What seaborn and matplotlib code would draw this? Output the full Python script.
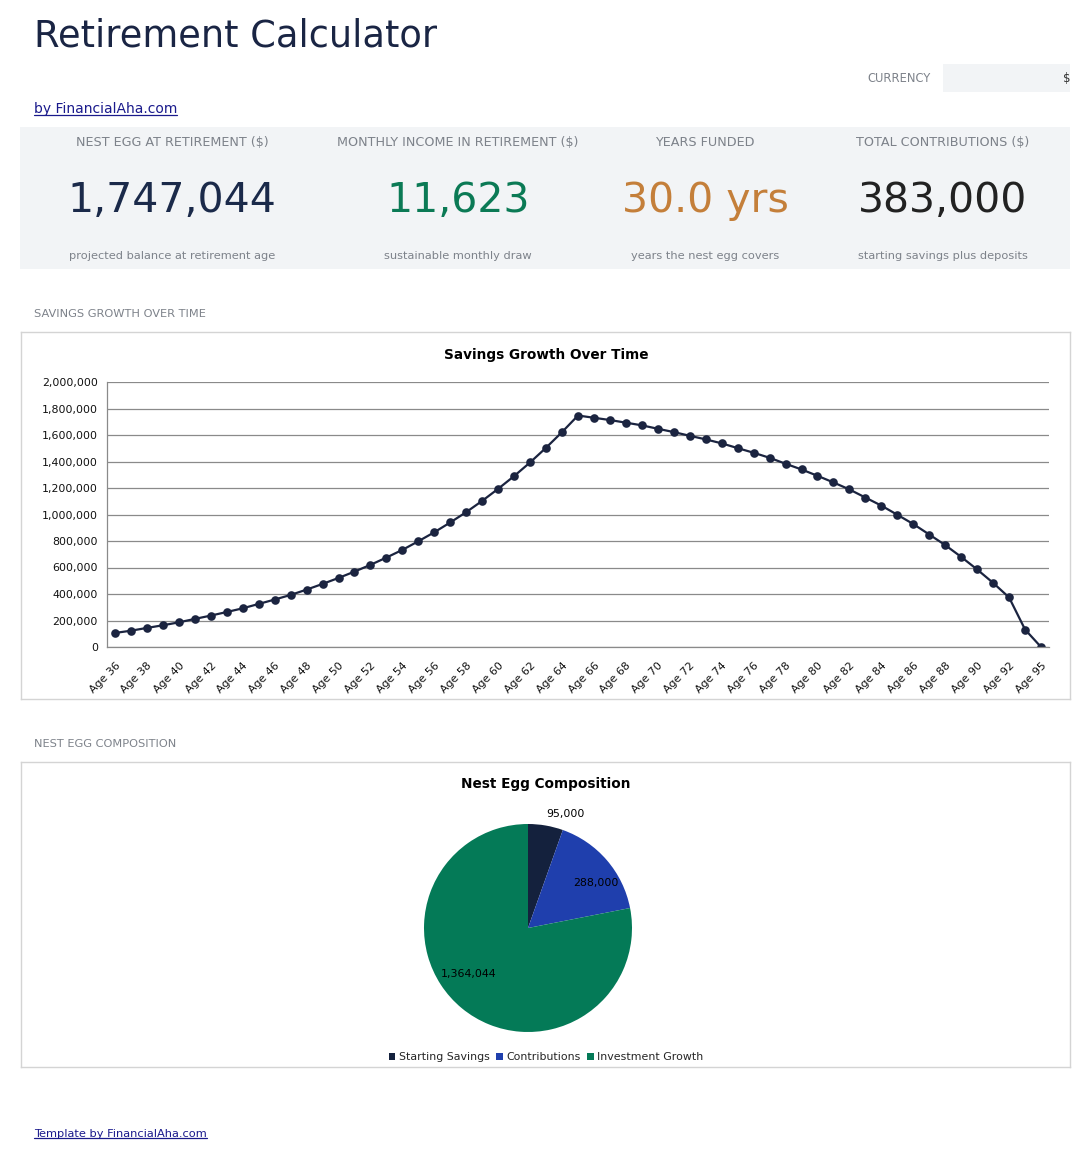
import numpy as np
import matplotlib.pyplot as plt
import seaborn as sns
from matplotlib.patches import Rectangle, Patch
from matplotlib.lines import Line2D
from matplotlib.ticker import FuncFormatter, MultipleLocator

plt.switch_backend('agg')
sns.set_style('white')
plt.rcParams['font.family'] = ['DejaVu Sans']

# ---- data ----
ages = [f"Age {a}" for a in list(range(36, 94)) + [95]]
balance = [106000, 123000, 144000, 164000, 186000, 212000, 237000, 264000, 292000, 325000,
           358000, 393000, 433000, 476000, 521000, 569000, 620000, 675000, 733000, 798000,
           866000, 940000, 1018000, 1103000, 1194000, 1290000, 1393000, 1504000, 1622000, 1747044,
           1730000, 1713000, 1693000, 1673000, 1647000, 1622000, 1594000, 1567000, 1537000, 1501000,
           1466000, 1428000, 1383000, 1340000, 1292000, 1242000, 1189000, 1128000, 1067000, 998000,
           928000, 849000, 769000, 680000, 585000, 484000, 374000, 132000, 0]

kpi_titles = ["NEST EGG AT RETIREMENT ($)", "MONTHLY INCOME IN RETIREMENT ($)",
              "YEARS FUNDED", "TOTAL CONTRIBUTIONS ($)"]
kpi_values = ["1,747,044", "11,623", "30.0 yrs", "383,000"]
kpi_notes = ["projected balance at retirement age", "sustainable monthly draw",
             "years the nest egg covers", "starting savings plus deposits"]
kpi_colors = ["#1b2a4a", "#0b7a55", "#c47f3a", "#222222"]

pie_labels = ["Starting Savings", "Contributions", "Investment Growth"]
pie_values = [95000, 288000, 1364044]
pie_colors = ["#14213d", "#1f3fad", "#047a57"]

W, H = 1091, 1161
fig = plt.figure(figsize=(W / 100, H / 100), dpi=100)
fig.patch.set_facecolor('white')


def rect(x0, y0, x1, y1):
    return [x0 / W, 1 - y1 / H, (x1 - x0) / W, (y1 - y0) / H]


def ftext(x, y, s, **kw):
    return fig.text(x / W, 1 - y / H, s, **kw)


GRAY = '#7d828a'
NAVY = '#1a2544'
LINK = '#1a1a8c'

# header
ftext(34, 36, "Retirement Calculator", fontsize=26.5, color=NAVY, va='center')
ftext(931, 78, "CURRENCY", fontsize=8.3, color=GRAY, va='center', ha='right')
fig.patches.append(Rectangle((943 / W, 1 - 92 / H), 127 / W, 28 / H,
                             transform=fig.transFigure, facecolor='#f2f4f6', edgecolor='none'))
ftext(1070, 78, "$", fontsize=8.5, color='#333333', va='center', ha='right')
links = [ftext(34, 109, "by FinancialAha.com", fontsize=10, color=LINK, va='center'),
         ftext(34, 1134, "Template by FinancialAha.com", fontsize=8.2, color=LINK, va='center')]

# KPI panel
fig.patches.append(Rectangle((20 / W, 1 - 269 / H), 1050 / W, 142 / H,
                             transform=fig.transFigure, facecolor='#f2f4f6', edgecolor='none'))
kpi_x = [172, 458, 705, 943]
for x, t, v, n, c in zip(kpi_x, kpi_titles, kpi_values, kpi_notes, kpi_colors):
    ftext(x, 142, t, fontsize=9.2, color=GRAY, ha='center', va='center')
    ftext(x, 201, v, fontsize=29.5, color=c, ha='center', va='center')
    ftext(x, 256, n, fontsize=8.2, color=GRAY, ha='center', va='center')

ftext(34, 314, "SAVINGS GROWTH OVER TIME", fontsize=8.2, color=GRAY, va='center')
ftext(34, 744, "NEST EGG COMPOSITION", fontsize=8.2, color=GRAY, va='center')

# chart frames
for box in [(21, 332, 1070, 699), (21, 762, 1070, 1067)]:
    fr = fig.add_axes(rect(*box))
    fr.set_xticks([])
    fr.set_yticks([])
    fr.patch.set_alpha(0)
    for s in fr.spines.values():
        s.set_color('#d4d4d4')
        s.set_linewidth(1)

# ---- line chart ----
ftext(546, 355, "Savings Growth Over Time", fontsize=9.8, fontweight='bold', color='black',
      ha='center', va='center')
ax = fig.add_axes(rect(107, 382, 1049, 647))
sns.pointplot(x=ages, y=balance, color='#1b2440', markers='o', markersize=5,
              linewidth=1.6, ax=ax, errorbar=None)
ax.set_xlim(-0.5, len(ages) - 0.5)
ax.set_ylim(0, 2000000)
ax.yaxis.set_major_locator(MultipleLocator(200000))
ax.yaxis.set_minor_locator(MultipleLocator(40000))
ax.yaxis.set_major_formatter(FuncFormatter(lambda v, p: f"{int(v):,}"))
ax.grid(axis='y', color='#8a8a8a', linewidth=0.9)
ax.grid(axis='x', visible=False)
ax.set_axisbelow(True)
major = list(range(0, len(ages), 2))
ax.set_xticks(major)
ax.set_xticklabels([ages[i] for i in major], rotation=45, ha='right', rotation_mode='anchor')
ax.set_xticks([i for i in np.arange(-0.5, len(ages), 0.5) if i not in major], minor=True)
ax.tick_params(axis='both', which='both', direction='inout', color='#8a8a8a', width=0.8,
               labelcolor='#111111')
ax.tick_params(axis='both', which='major', length=7, labelsize=7.9, pad=3)
ax.tick_params(axis='both', which='minor', length=6)
ax.tick_params(axis='x', which='major', pad=6)
ax.set_xlabel('')
ax.set_ylabel('')
for s in ['top', 'right']:
    ax.spines[s].set_visible(False)
for s in ['left', 'bottom']:
    ax.spines[s].set_color('#8a8a8a')
    ax.spines[s].set_linewidth(0.9)

# ---- pie chart ----
ftext(546, 784, "Nest Egg Composition", fontsize=9.8, fontweight='bold', color='black',
      ha='center', va='center')
pax = fig.add_axes(rect(424, 824, 632, 1032))
total = sum(pie_values)
wedges, _, autotexts = pax.pie(pie_values, colors=pie_colors, startangle=90, counterclock=False,
                               autopct=lambda p: f"{round(p * total / 100):,}",
                               pctdistance=0.72, wedgeprops=dict(linewidth=0),
                               textprops=dict(fontsize=7.9, color='black'))
pax.set_xlim(-1, 1)
pax.set_ylim(-1, 1)
# smallest slice label sits outside the pie
w0 = wedges[0]
ang = np.deg2rad((w0.theta1 + w0.theta2) / 2 - 8)
autotexts[0].set_position((1.17 * np.cos(ang), 1.15 * np.sin(ang)))
ang = np.deg2rad((wedges[1].theta1 + wedges[1].theta2) / 2 - 7)
autotexts[1].set_position((0.78 * np.cos(ang), 0.78 * np.sin(ang)))
ang = np.deg2rad((wedges[2].theta1 + wedges[2].theta2) / 2 - 13)
autotexts[2].set_position((0.72 * np.cos(ang), 0.72 * np.sin(ang)))

handles = [Patch(facecolor=c, edgecolor='none', label=l) for c, l in zip(pie_colors, pie_labels)]
fig.legend(handles=handles, loc='center', bbox_to_anchor=(546 / W, 1 - 1057 / H), ncol=3,
           frameon=False, fontsize=7.9, handlelength=0.6, handleheight=0.6,
           handletextpad=0.3, columnspacing=0.6)

# underline the links
fig.canvas.draw()
r = fig.canvas.get_renderer()
for t in links:
    bb = t.get_window_extent(r)
    y = bb.y0 + 1
    fig.add_artist(Line2D([bb.x0 / W, bb.x1 / W], [y / H, y / H], transform=fig.transFigure,
                          color=LINK, linewidth=0.9))

fig.savefig('out.png', dpi=100)
